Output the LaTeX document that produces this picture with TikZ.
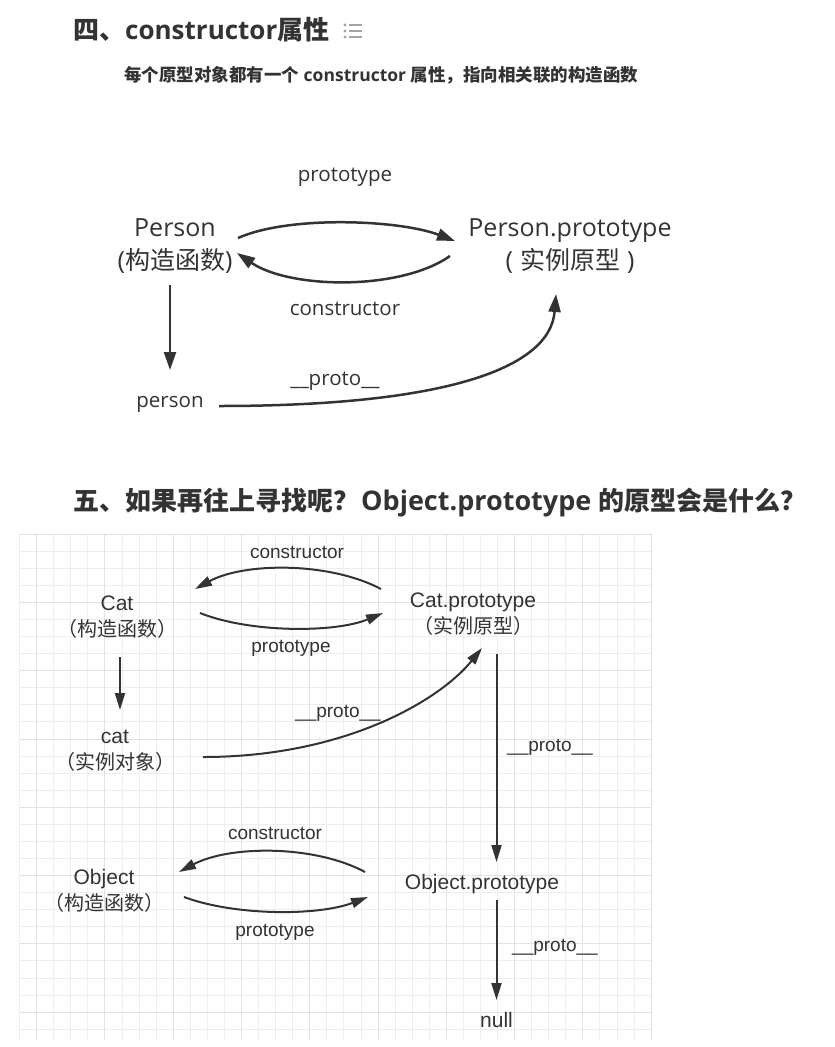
\documentclass[tikz,border=0pt]{standalone}
\usepackage{fontspec}
\setmainfont{Open Sans}
\newfontfamily\cjk{Noto Sans CJK SC}
\newfontfamily\helv{Liberation Sans}
\usepackage{tikz}
\usetikzlibrary{positioning,arrows.meta}
\tikzset{>={Triangle[length=16pt,width=10pt]}}
\definecolor{ink}{RGB}{51,51,51}
\definecolor{gridlight}{RGB}{238,238,238}
\definecolor{griddark}{RGB}{226,226,226}
\definecolor{icongray}{RGB}{165,165,165}
\newcommand{\zh}[1]{{\cjk\fontsize{20}{26}\selectfont #1}}
\tikzset{
  heading/.style={anchor=west, inner sep=0pt, text=ink, font=\bfseries\fontsize{26}{30}\selectfont},
  subhead/.style={anchor=west, inner sep=0pt, text=ink, font=\bfseries\fontsize{17.5}{20}\selectfont},
  bigname/.style={align=center, inner sep=0pt, text=ink, font=\fontsize{25}{33}\selectfont},
  smallname/.style={inner sep=0pt, text=ink, font=\fontsize{20.5}{24}\selectfont},
  gridname/.style={align=center, inner sep=0pt, text=ink, font=\helv\fontsize{21}{26}\selectfont},
  gridlabel/.style={inner sep=0pt, text=ink, font=\helv\fontsize{19}{22}\selectfont},
  arrowa/.style={->, draw=ink, line width=2.5pt, >={Triangle[length=18pt,width=12pt]}},
  arrowb/.style={->, draw=ink, line width=2pt, >={Triangle[length=17pt,width=10pt]}},
}

\begin{document}
\begin{tikzpicture}[x=1pt,y=-1pt]
    \fill[white] (0,0) rectangle (835,1047);
    \useasboundingbox (0,0) rectangle (835,1047);

    % Section four heading
    \node[heading] (title4) at (73,30) {{\cjk 四、}constructor{\cjk 属性}};
    \foreach \y in {25,31,37} {
        \fill[icongray] (345,\y) circle (1.6);
        \draw[icongray, line width=1.8pt] (349,\y) -- (362,\y);
    }
    \node[subhead] (note4) at (124,75) {{\cjk 每个原型对象都有一个} constructor {\cjk 属性，指向相关联的构造函数}};

    % First diagram
    \node[bigname] (personfn) at (175,246.5) {Person\\({\cjk 构造函数})};
    \node[bigname] (pproto) at (570,246.5) {Person.prototype\\(\hspace{7pt}{\cjk 实例原型}\hspace{7pt})};
    \node[smallname] (person) at (170,404) {person};

    \node[smallname] (lproto1) at (345,177) {prototype};
    \node[smallname] (lcons1) at (345,309) {constructor};
    \node[smallname] (lpp1) at (335,381) {\_\_proto\_\_};

    \draw[arrowa] ([shift={(63,-8.5)}]personfn.center) .. controls +(52,-23) and +(-55,-21) .. ([shift={(-115,-5.5)}]pproto.center);
    \draw[arrowa] ([shift={(-120,9.5)}]pproto.center) .. controls +(-50,35) and +(53,36) .. ([shift={(62,6.5)}]personfn.center);
    \draw[arrowa] ([shift={(-5,38.5)}]personfn.center) -- ([shift={(0,-34)}]person.center);
    \draw[arrowa] ([shift={(49,2)}]person.center) .. controls +(221,0) and +(-6,76) .. ([shift={(-14,47.5)}]pproto.center);

    % Section five heading
    \node[heading] (title5) at (73,503) {{\cjk 五、如果再往上寻找呢？}\hspace{2pt}{\fontsize{27}{30}\selectfont Object.prototype} {\cjk 的原型会是什么？}};

    % Grid paper
    \foreach \k in {0,...,37}
        \draw[gridlight, line width=1pt] ({floor(19.6+17.07*\k)+0.5},534) -- ({floor(19.6+17.07*\k)+0.5},1040);
    \foreach \k in {0,...,29}
        \draw[gridlight, line width=1pt] (19.6,{floor(534.2+17.07*\k)+0.5}) -- (651.2,{floor(534.2+17.07*\k)+0.5});
    \foreach \k in {1,5,...,37}
        \draw[griddark, line width=1pt] ({floor(19.6+17.07*\k)+0.5},534) -- ({floor(19.6+17.07*\k)+0.5},1040);
    \foreach \k in {0,4,...,28}
        \draw[griddark, line width=1pt] (19.6,{floor(534.2+17.07*\k)+0.5}) -- (651.2,{floor(534.2+17.07*\k)+0.5});

    % Second diagram
    \node[gridname] (catfn) at (117,617.5) {Cat\\\zh{（构造函数）}};
    \node[gridname] (catproto) at (473,614.5) {Cat.prototype\\\zh{（实例原型）}};
    \node[gridname] (catobj) at (115,751) {cat\\\zh{（实例对象）}};
    \node[gridname] (objfn) at (104,891) {Object\\\zh{（构造函数）}};
    \node[gridname] (objproto) at (482,884) {Object.prototype};
    \node[gridname] (nullv) at (496.5,1020) {null};

    \node[gridlabel] (lcons2) at (297,552) {constructor};
    \node[gridlabel] (lproto2) at (291,648) {prototype};
    \node[gridlabel] (lpp2) at (338,713) {\_\_proto\_\_};
    \node[gridlabel] (lpp3) at (550,747) {\_\_proto\_\_};
    \node[gridlabel] (lcons3) at (275,833) {constructor};
    \node[gridlabel] (lproto3) at (275,932.5) {prototype};
    \node[gridlabel] (lpp4) at (555,947) {\_\_proto\_\_};

    \draw[arrowb] ([shift={(-92,-25.5)}]catproto.center) .. controls +(-51,-27) and +(50,-27) .. ([shift={(78,-28.5)}]catfn.center);
    \draw[arrowb] ([shift={(83,-4.5)}]catfn.center) .. controls +(50,20) and +(-48,20) .. ([shift={(-90,-1.5)}]catproto.center);
    \draw[arrowb] ([shift={(3,39.5)}]catfn.center) -- ([shift={(5,-41)}]catobj.center);
    \draw[arrowb] ([shift={(88,6)}]catobj.center) .. controls +(142,0) and +(-42,52) .. ([shift={(9,33.5)}]catproto.center);
    \draw[arrowb] ([shift={(23.5,39.5)}]catproto.center) -- ([shift={(14.5,-22)}]objproto.center);

    \draw[arrowb] ([shift={(-117,-12)}]objproto.center) .. controls +(-50,-27) and +(51,-27) .. ([shift={(75,-19)}]objfn.center);
    \draw[arrowb] ([shift={(80,6)}]objfn.center) .. controls +(51,19) and +(-50,19) .. ([shift={(-114,13)}]objproto.center);
    \draw[arrowb] ([shift={(14.5,16)}]objproto.center) -- ([shift={(0,-20)}]nullv.center);

\end{tikzpicture}
\end{document}
